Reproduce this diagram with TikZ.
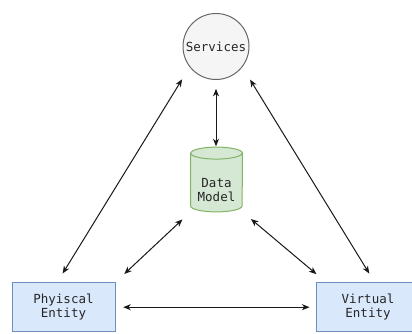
\documentclass[tikz,border=0pt]{standalone}
\usepackage{fontspec}
\setmonofont{DejaVu Sans Mono}
\usetikzlibrary{arrows.meta,calc}
\pgfdeclarelayer{background}
\pgfsetlayers{background,main}

\definecolor{svcfill}{HTML}{F5F5F5}
\definecolor{svcline}{HTML}{666666}
\definecolor{dbfill}{HTML}{D5E8D4}
\definecolor{dbline}{HTML}{82B366}
\definecolor{entfill}{HTML}{DAE8FC}
\definecolor{entline}{HTML}{6C8EBF}

\tikzset{
  lbl/.style={font=\ttfamily\fontsize{12.5}{14}\selectfont, text=black!85, align=center, inner sep=0pt},
  svcnode/.style={lbl, circle, draw=svcline, fill=svcfill, line width=1pt, minimum size=66pt},
  dbnode/.style={lbl, rectangle, minimum width=51.6pt, minimum height=64.4pt},
  entnode/.style={lbl, rectangle, draw=entline, fill=entfill, line width=1pt,
    minimum width=103pt, minimum height=49pt},
  link/.style={line width=1pt, black!90, {Stealth[length=7.5pt,width=6pt,inset=2.2pt]}-{Stealth[length=7.5pt,width=6pt,inset=2.2pt]}},
}

\begin{document}
\begin{tikzpicture}[x=1pt,y=1pt]
  \useasboundingbox (0,0) rectangle (412,-334);

  % nodes
  \node[svcnode] (svc) at (216,-46.5) {Services};
  \node[dbnode] (data) at (216.5,-179.5) {};
  \node[lbl] (datatxt) at (216.5,-190) {Data\\Model};
  \node[entnode] (phys) at (63.5,-307.2) {Phyiscal\\Entity};
  \node[entnode] (virt) at (368,-307.2) {Virtual\\Entity};

  % database cylinder behind its label
  \begin{pgfonlayer}{background}
    \draw[dbline, fill=dbfill, line width=1pt]
      ($(data.north west)+(0,-6)$) -- ($(data.south west)+(0,6)$)
      arc[start angle=180, end angle=360, x radius=25.8, y radius=6]
      -- ($(data.north east)+(0,-6)$)
      arc[start angle=0, end angle=180, x radius=25.8, y radius=6] -- cycle;
    \draw[dbline, line width=1pt]
      ($(data.north west)+(0,-6)$)
      arc[start angle=180, end angle=360, x radius=25.8, y radius=6];
  \end{pgfonlayer}

  % connectors
  \draw[link, shorten <=8.8pt, shorten >=0.8pt] (svc.south) -- (svc.south |- data.north);
  \draw[link, shorten <=10.2pt, shorten >=14.3pt] ($(phys.north)+(-6.2,0)$) -- (svc.218.6);
  \draw[link, shorten <=10.2pt, shorten >=14.7pt] ($(virt.north)+(6.6,0)$) -- (svc.-38.6);
  \draw[link, shorten <=12pt, shorten >=11pt] (phys.north east) -- (data.south west);
  \draw[link, shorten <=11pt, shorten >=12.5pt] (data.south east) -- ($(virt.north west)+(10,0)$);
  \draw[link, shorten <=7.7pt, shorten >=6.5pt] (phys.east) -- (virt.west);
\end{tikzpicture}
\end{document}
